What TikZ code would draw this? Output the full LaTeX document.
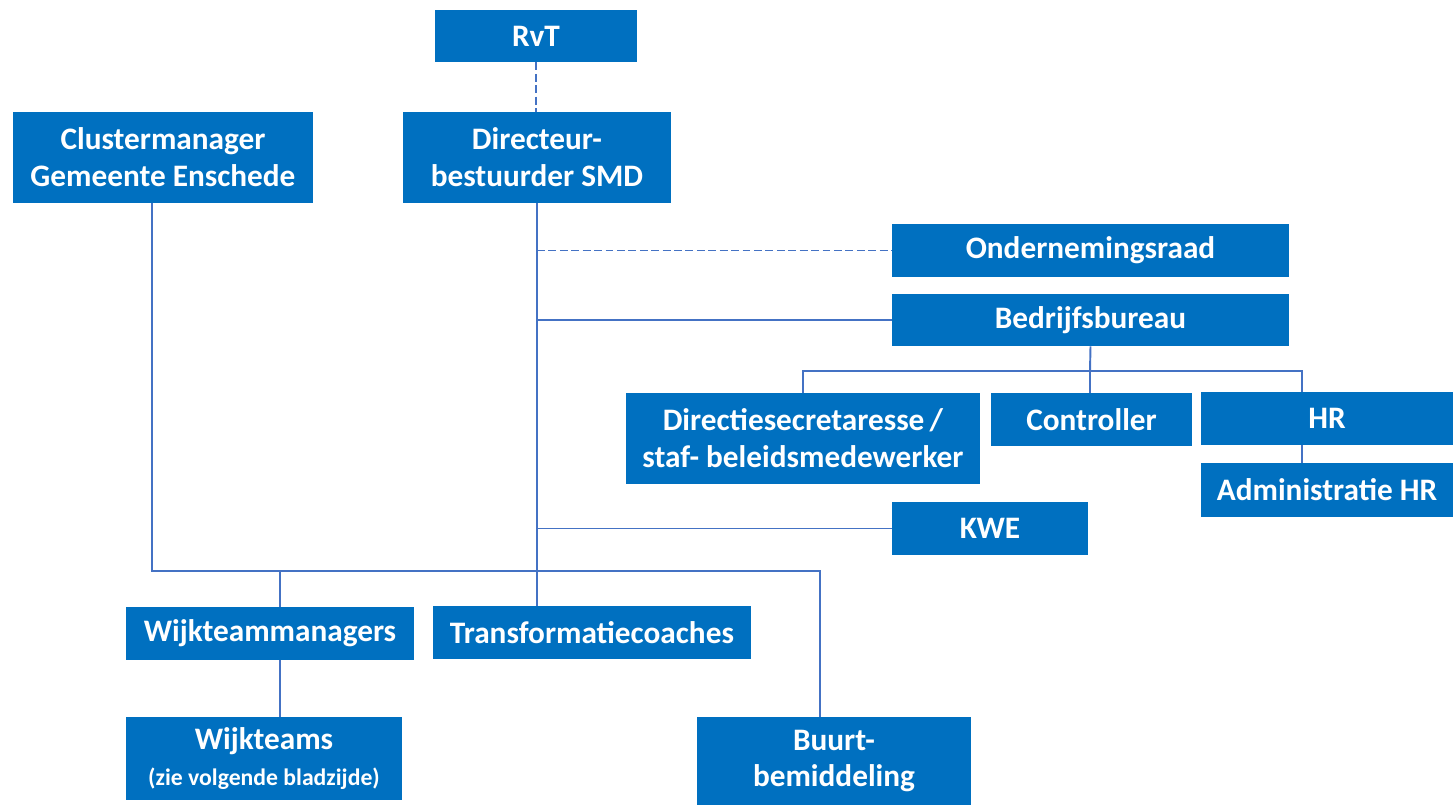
\documentclass[tikz,border=0pt]{standalone}
\usepackage{fontspec}
\setmainfont{Carlito}
\definecolor{boxblue}{HTML}{0070C0}
\definecolor{lijnblauw}{HTML}{4472C4}
\begin{document}
\begin{tikzpicture}[x=0.02cm, y=-0.02cm,
             box/.style = {fill=boxblue, text=white, font=\bfseries\fontsize{17.8}{21}\selectfont,
                           align=center, inner sep=0pt, minimum width=#1*0.02cm},
             box/.default = 200,
             lijn/.style = {draw=lijnblauw, line width=1.1pt},
             stippel/.style = {lijn, dash pattern=on 4.5pt off 2pt}]
            \useasboundingbox (0,0) rectangle (1454,805);

            % Bovenste laag
            \node[box=202, minimum height=52*0.02cm] (rvt) at (536,36) {RvT};
            \node[box=268, minimum height=91*0.02cm] (dir) at (537,157.5) {Directeur-\\bestuurder SMD};
            \node[box=300, minimum height=91*0.02cm] (cluster) at (163,157.5) {Clustermanager\\Gemeente Enschede};

            % Staf rechts
            \node[box=397, minimum height=53*0.02cm] (or) at (1090.5,250.5) {Ondernemingsraad};
            \node[box=397, minimum height=52*0.02cm] (bb) at (1090.5,320) {Bedrijfsbureau};
            \node[box=354, minimum height=91*0.02cm] (dsec) at (803,438.5) {Directiesecretaresse\,/\\staf- beleidsmedewerker};
            \node[box=201, minimum height=53*0.02cm] (contr) at (1091.5,419.5) {Controller};
            \node[box=252, minimum height=53*0.02cm] (hr) at (1327,418.5) {HR};
            \node[box=252, minimum height=54*0.02cm] (adm) at (1327,490) {Administratie HR};
            \node[box=196, minimum height=53*0.02cm] (kwe) at (990,528.5) {KWE};

            % Onderste laag
            \node[box=288, minimum height=53*0.02cm] (wtm) at (270,633.5) {Wijkteammanagers};
            \node[box=318, minimum height=53*0.02cm] (trans) at (592,632.5) {Transformatiecoaches};
            \node[box=276, minimum height=83*0.02cm] (wt) at (264,758.5) {Wijkteams\\{\fontsize{13.5}{16}\selectfont(zie volgende bladzijde)}};
            \node[box=274, minimum height=88*0.02cm] (buurt) at (834,761) {Buurt-\\bemiddeling};

            \coordinate (bus) at (152,571);
            \coordinate (tak) at (1090,371);

            % Lijnen
            \draw[stippel] (rvt.south) -- (rvt.south |- dir.north);
            \draw[lijn] (dir.south) -- (dir.south |- trans.north);
            \draw[stippel] (dir.south |- or.west) -- (or.west);
            \draw[lijn] (dir.south |- bb.west) -- (bb.west);
            \draw[lijn] (dir.south |- kwe.west) -- (kwe.west);

            \draw[lijn] ([xshift=-11*0.02cm]cluster.south) -- (bus) -| ([xshift=-14*0.02cm]buurt.north);
            \draw[lijn] ([xshift=10*0.02cm]wtm.north |- bus) -- ([xshift=10*0.02cm]wtm.north);
            \draw[lijn] ([xshift=10*0.02cm]wtm.south) -- ([xshift=10*0.02cm]wtm.south |- wt.north);

            \draw[lijn] (bb.south) -- (tak);
            \draw[lijn] (dsec.north) |- (tak) -| ([xshift=-25*0.02cm]hr.north);
            \draw[lijn] (tak) -- (tak |- contr.north);
            \draw[lijn] ([xshift=-25*0.02cm]hr.south) -- ([xshift=-25*0.02cm]adm.north);
        \end{tikzpicture}
\end{document}
